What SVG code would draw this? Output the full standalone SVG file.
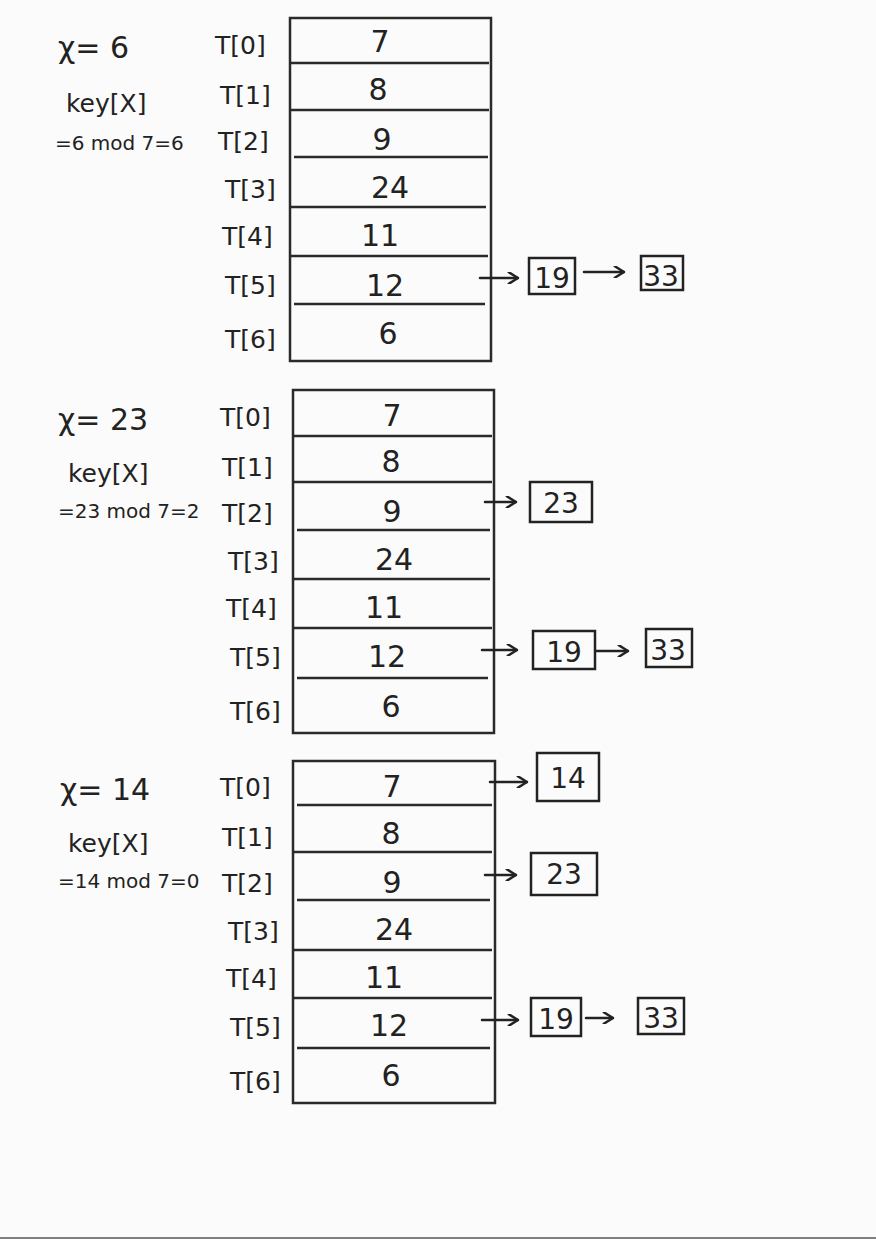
<svg xmlns="http://www.w3.org/2000/svg" width="876" height="1239" viewBox="0 0 876 1239">
<defs>
<style>
text{font-family:"DejaVu Sans","Liberation Sans",sans-serif;fill:#222}
.v{font-size:30px;text-anchor:middle}
.l{font-size:25px}
.x{font-size:30px}
.k{font-size:25px}
.m{font-size:20px}
.n{font-size:28px;text-anchor:middle}
.tb{fill:none;stroke:#2a2a2a;stroke-width:2.5}
.dv{stroke:#2a2a2a;stroke-width:2.5}
.bx{fill:none;stroke:#222;stroke-width:2.5}
.c{fill:none;stroke:#222;stroke-width:2.5;stroke-linecap:round;marker-end:url(#ah)}
</style>
<marker id="ah" viewBox="0 0 10 10" refX="9" refY="5" markerWidth="5" markerHeight="5" orient="auto" markerUnits="strokeWidth">
<path d="M1 0 L9 5 L1 10" fill="none" stroke="#222" stroke-width="2"/>
</marker>
</defs>
<rect width="876" height="1239" fill="#fbfbfb"/>
<line x1="0" y1="1238" x2="876" y2="1238" stroke="#808080" stroke-width="2"/>

<g id="table1">
<text class="x" x="58" y="58">χ= 6</text>
<text class="k" x="66" y="112">key[X]</text>
<text class="m" x="55" y="150">=6 mod 7=6</text>
<rect class="tb" x="290" y="18" width="201" height="343"/>
<line class="dv" x1="290" y1="63" x2="489" y2="63"/>
<line class="dv" x1="290" y1="110" x2="489" y2="110"/>
<line class="dv" x1="294" y1="157" x2="488" y2="157"/>
<line class="dv" x1="290" y1="207" x2="486" y2="207"/>
<line class="dv" x1="290" y1="256" x2="488" y2="256"/>
<line class="dv" x1="294" y1="304" x2="485" y2="304"/>
<text class="l" x="215" y="54">T[0]</text>
<text class="l" x="220" y="104">T[1]</text>
<text class="l" x="218" y="150">T[2]</text>
<text class="l" x="225" y="198">T[3]</text>
<text class="l" x="222" y="245">T[4]</text>
<text class="l" x="225" y="294">T[5]</text>
<text class="l" x="225" y="348">T[6]</text>
<text class="v" x="380" y="52">7</text>
<text class="v" x="378" y="100">8</text>
<text class="v" x="382" y="150">9</text>
<text class="v" x="390" y="198">24</text>
<text class="v" x="380" y="246">11</text>
<text class="v" x="385" y="296">12</text>
<text class="v" x="388" y="344">6</text>
</g>

<g id="table2">
<text class="x" x="58" y="430">χ= 23</text>
<text class="k" x="68" y="482">key[X]</text>
<text class="m" x="58" y="518">=23 mod 7=2</text>
<rect class="tb" x="293" y="390" width="201" height="343"/>
<line class="dv" x1="293" y1="436" x2="492" y2="436"/>
<line class="dv" x1="293" y1="482" x2="492" y2="482"/>
<line class="dv" x1="297" y1="530" x2="490" y2="530"/>
<line class="dv" x1="293" y1="579" x2="490" y2="579"/>
<line class="dv" x1="293" y1="628" x2="492" y2="628"/>
<line class="dv" x1="297" y1="678" x2="488" y2="678"/>
<text class="l" x="220" y="426">T[0]</text>
<text class="l" x="222" y="476">T[1]</text>
<text class="l" x="222" y="522">T[2]</text>
<text class="l" x="228" y="570">T[3]</text>
<text class="l" x="226" y="617">T[4]</text>
<text class="l" x="230" y="666">T[5]</text>
<text class="l" x="230" y="720">T[6]</text>
<text class="v" x="392" y="426">7</text>
<text class="v" x="391" y="472">8</text>
<text class="v" x="392" y="522">9</text>
<text class="v" x="394" y="570">24</text>
<text class="v" x="384" y="618">11</text>
<text class="v" x="387" y="667">12</text>
<text class="v" x="391" y="717">6</text>
</g>

<g id="table3">
<text class="x" x="60" y="800">χ= 14</text>
<text class="k" x="68" y="852">key[X]</text>
<text class="m" x="58" y="888">=14 mod 7=0</text>
<rect class="tb" x="293" y="761" width="202" height="342"/>
<line class="dv" x1="297" y1="805" x2="492" y2="805"/>
<line class="dv" x1="293" y1="852" x2="492" y2="852"/>
<line class="dv" x1="297" y1="900" x2="490" y2="900"/>
<line class="dv" x1="293" y1="950" x2="492" y2="950"/>
<line class="dv" x1="293" y1="998" x2="492" y2="998"/>
<line class="dv" x1="297" y1="1048" x2="490" y2="1048"/>
<text class="l" x="220" y="796">T[0]</text>
<text class="l" x="222" y="846">T[1]</text>
<text class="l" x="222" y="892">T[2]</text>
<text class="l" x="228" y="940">T[3]</text>
<text class="l" x="226" y="987">T[4]</text>
<text class="l" x="230" y="1036">T[5]</text>
<text class="l" x="230" y="1090">T[6]</text>
<text class="v" x="392" y="797">7</text>
<text class="v" x="391" y="844">8</text>
<text class="v" x="392" y="893">9</text>
<text class="v" x="394" y="940">24</text>
<text class="v" x="384" y="988">11</text>
<text class="v" x="389" y="1036">12</text>
<text class="v" x="391" y="1086">6</text>
</g>

<g id="n1-19"><rect class="bx" x="529" y="258" width="46" height="36"/><text class="n" x="552" y="288">19</text></g>
<g id="n1-33"><rect class="bx" x="641" y="256" width="42" height="34"/><text class="n" x="661" y="286">33</text></g>
<g id="n2-23"><rect class="bx" x="530" y="482" width="62" height="40"/><text class="n" x="561" y="513">23</text></g>
<g id="n2-19"><rect class="bx" x="533" y="631" width="62" height="38"/><text class="n" x="564" y="662">19</text></g>
<g id="n2-33"><rect class="bx" x="646" y="629" width="46" height="38"/><text class="n" x="668" y="660">33</text></g>
<g id="n3-14"><rect class="bx" x="537" y="753" width="62" height="48"/><text class="n" x="568" y="788">14</text></g>
<g id="n3-23"><rect class="bx" x="531" y="853" width="66" height="42"/><text class="n" x="564" y="884">23</text></g>
<g id="n3-19"><rect class="bx" x="531" y="998" width="50" height="38"/><text class="n" x="556" y="1029">19</text></g>
<g id="n3-33"><rect class="bx" x="638" y="998" width="46" height="36"/><text class="n" x="661" y="1028">33</text></g>

<g id="connectors">
<path class="c" d="M480 278 L518 278"/>
<path class="c" d="M584 272 L624 272"/>
<path class="c" d="M485 502 L516 502"/>
<path class="c" d="M482 650 L517 650"/>
<path class="c" d="M596 651 L628 651"/>
<path class="c" d="M490 782 L527 782"/>
<path class="c" d="M485 875 L516 875"/>
<path class="c" d="M482 1020 L518 1020"/>
<path class="c" d="M586 1018 L613 1018"/>
</g>
</svg>
